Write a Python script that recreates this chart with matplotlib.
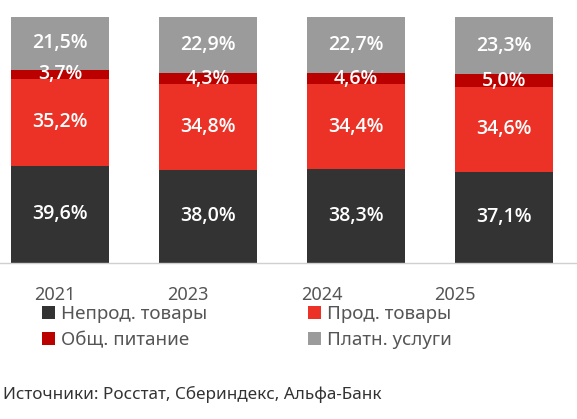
import matplotlib.pyplot as plt
from matplotlib.patches import Patch
import numpy as np

plt.rcParams['font.family'] = ['Noto Sans', 'DejaVu Sans']

# Data
years = ['2021', '2023', '2024', '2025']
nonfood = [39.6, 38.0, 38.3, 37.1]
food = [35.2, 34.8, 34.4, 34.6]
catering = [3.7, 4.3, 4.6, 5.0]
services = [21.5, 22.9, 22.7, 23.3]

series = [
    ('Непрод. товары', nonfood, '#333333'),
    ('Прод. товары', food, '#ec3226'),
    ('Общ. питание', catering, '#bb0000'),
    ('Платн. услуги', services, '#9b9b9b'),
]

fig = plt.figure(figsize=(5.77, 4.19), dpi=100)
ax = fig.add_axes([0, 0.3723, 1, 0.587])

x = np.arange(len(years))
bottom = np.zeros(len(years))
handles = {}
for name, vals, color in series:
    vals = np.array(vals)
    ax.bar(x, vals, width=0.662, bottom=bottom, color=color, edgecolor='none')
    for xi, b, v in zip(x, bottom, vals):
        ax.text(xi, b + v / 2, f'{v:.1f}%'.replace('.', ','), ha='center', va='center',
                color='white', fontsize=14, fontweight='semibold',
                family=['Open Sans', 'DejaVu Sans'])
    bottom += vals
    handles[name] = Patch(facecolor=color, edgecolor='none', label=name)

ax.set_xlim(-0.405, 3.493)
ax.set_ylim(0, 100)
for s in ['top', 'right', 'left']:
    ax.spines[s].set_visible(False)
ax.spines['bottom'].set_color('#d0d0d0')
ax.spines['bottom'].set_linewidth(1)
ax.set_yticks([])
ax.set_xticks([])

# year labels (offset from the bars as in the original)
label_pos = [55, 188, 322, 455]
for px, yr in zip(label_pos, years):
    fig.text(px / 577, 1 - 295 / 419, yr, ha='center', va='center',
             fontsize=13, color='#555555', fontweight='light')

order = ['Непрод. товары', 'Общ. питание', 'Прод. товары', 'Платн. услуги']
leg = fig.legend(handles=[handles[n] for n in order], ncol=2, loc='upper left',
                 bbox_to_anchor=(0.072, 1 - 305 / 419), frameon=False,
                 fontsize=13.5, handlelength=0.7, handleheight=0.7, handletextpad=0.35,
                 columnspacing=5.35, labelspacing=0.45, borderaxespad=0, borderpad=0)
for t in leg.get_texts():
    t.set_color('#555555')

fig.text(3 / 577, 1 - 394 / 419, 'Источники: Росстат, Сбериндекс, Альфа-Банк',
         ha='left', va='center', fontsize=12.3, color='#333333')

fig.savefig('out.png', dpi=100)
